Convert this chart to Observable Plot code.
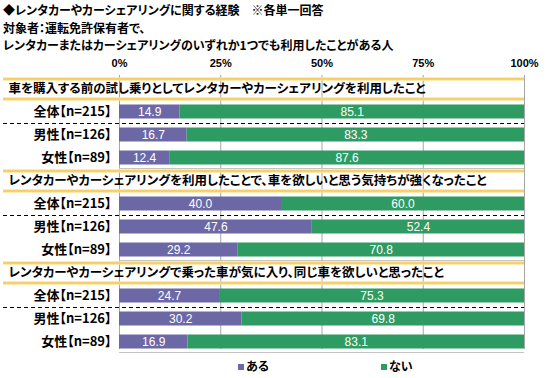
<!DOCTYPE html>
<html><head><meta charset="utf-8">
<script src="https://cdn.jsdelivr.net/npm/d3@7"></script>
<script src="https://cdn.jsdelivr.net/npm/@observablehq/plot@0.6"></script>
<style>
body{margin:0;background:#fff;font-family:'Noto Sans CJK JP',sans-serif;}
#wrap{width:550px;height:378px;position:relative;overflow:hidden;background:#fff;}
.title{padding:1px 0 0 3px;height:52px;color:#000;}
.title div{font-size:12px;font-weight:bold;line-height:17.5px;height:17.5px;font-feature-settings:"palt";white-space:nowrap;}
svg text{font-feature-settings:"palt";}
.legend{position:relative;height:20px;font-size:12px;font-weight:bold;font-feature-settings:"palt";}
.legend span{position:absolute;top:0;line-height:16px;}
.sw{display:inline-block;width:6px;height:6px;margin-right:2px;vertical-align:1px;}
</style></head>
<body>
<div id="wrap">
<div class="title"><div>◆レンタカーやカーシェアリングに関する経験　※各単一回答</div><div>対象者：運転免許保有者で、</div><div>レンタカーまたはカーシェアリングのいずれか1つでも利用したことがある人</div></div>
<div id="chart"></div>
<div class="legend" id="legend"></div>
</div>
<script>
const questions = [
  "車を購入する前の試し乗りとしてレンタカーやカーシェアリングを利用したこと",
  "レンタカーやカーシェアリングを利用したことで、車を欲しいと思う気持ちが強くなったこと",
  "レンタカーやカーシェアリングで乗った車が気に入り、同じ車を欲しいと思ったこと"
];
const groups = ["全体【n=215】", "男性【n=126】", "女性【n=89】"];
const aru = [[14.9, 16.7, 12.4], [40.0, 47.6, 29.2], [24.7, 30.2, 16.9]];
const nai = [[85.1, 83.3, 87.6], [60.0, 52.4, 70.8], [75.3, 69.8, 83.1]];
const series = ["ある", "ない"];
const colors = ["#6c68a6", "#2e9b63"];
const ticks = [0, 25, 50, 75, 100];

const keys = [], bars = [], rowLabels = [], headers = [];
questions.forEach((q, s) => {
  keys.push("h" + s);
  headers.push({key: "h" + s, text: q});
  groups.forEach((g, i) => {
    const key = s + "-" + i;
    keys.push(key);
    rowLabels.push({key, label: g, i});
    const a = aru[s][i], n = nai[s][i];
    bars.push({key, series: series[0], x1: 0, x2: a, v: a});
    bars.push({key, series: series[1], x1: a, x2: a + n, v: n});
  });
});

const H = 305, MT = 23.5, MB = 5.5;
const bw = (H - MT - MB) / keys.length;
const firstRows = rowLabels.filter(d => d.i === 1);
const lastRows = rowLabels.filter(d => d.i === 2);

const chart = Plot.plot({
  width: 550, height: H,
  marginTop: MT, marginBottom: MB, marginLeft: 119, marginRight: 26,
  x: {domain: [0, 100], axis: null},
  y: {domain: keys, axis: null, padding: 0},
  color: {domain: series, range: colors},
  style: {fontFamily: "'Noto Sans CJK JP', sans-serif", background: "white", overflow: "visible", color: "black"},
  marks: [
    Plot.ruleX(ticks, {stroke: "#a6a6a6", strokeWidth: 1, insetTop: -1.5, insetBottom: 3.5}),
    Plot.ruleY(headers, {y: "key", x1: 0, x2: 100, insetLeft: -116, dy: -(bw/2 - 1.5), stroke: "#fbe29a", strokeWidth: 3.5}),
    Plot.ruleY(headers, {y: "key", x1: 0, x2: 100, insetLeft: -116, dy: -(bw/2 - 1.5), stroke: "#f2bd3a", strokeWidth: 1}),
    Plot.ruleY(headers, {y: "key", x1: 0, x2: 100, insetLeft: -116, dy: (bw/2 - 1.5), stroke: "#fbe29a", strokeWidth: 3.5}),
    Plot.ruleY(headers, {y: "key", x1: 0, x2: 100, insetLeft: -116, dy: (bw/2 - 1.5), stroke: "#f2bd3a", strokeWidth: 1}),
    Plot.ruleY(firstRows, {y: "key", x1: 0, x2: 100, insetLeft: -116, dy: -bw/2, stroke: "#000", strokeWidth: 1, strokeDasharray: "4,3"}),
    Plot.ruleY(lastRows, {y: "key", x1: 0, x2: 100, dy: bw/2 - 1, stroke: "#c4c4c4", strokeWidth: 1}),
    Plot.barX(bars, {x1: "x1", x2: "x2", y: "key", fill: "series", insetTop: 4.5, insetBottom: 4.5}),
    Plot.text(bars, {x: d => (d.x1 + d.x2) / 2, y: "key", text: d => d.v.toFixed(1), fill: "white", fontSize: 12, fontFamily: "'Liberation Sans', Arial, sans-serif"}),
    Plot.text(headers, {y: "key", text: "text", frameAnchor: "left", dx: -111, textAnchor: "start", fontSize: 12.5, fontWeight: "bold", fill: "black"}),
    Plot.text(rowLabels, {y: "key", text: "label", frameAnchor: "left", dx: -8, textAnchor: "end", fontSize: 13, fontWeight: "bold", fill: "black"}),
    Plot.axisX({anchor: "top", ticks: ticks, tickSize: 0, tickPadding: 10, tickFormat: d => d + "%", fontSize: 11, fontWeight: "bold", fill: "black", fontFamily: "'Liberation Sans', Arial, sans-serif"})
  ]
});
document.getElementById("chart").appendChild(chart);

const legend = document.getElementById("legend");
const lx = [238, 381];
series.forEach((s, i) => {
  const sp = document.createElement("span");
  sp.style.left = lx[i] + "px";
  sp.innerHTML = `<i class="sw" style="background:${colors[i]}"></i>${s}`;
  legend.appendChild(sp);
});
</script>
</body></html>
